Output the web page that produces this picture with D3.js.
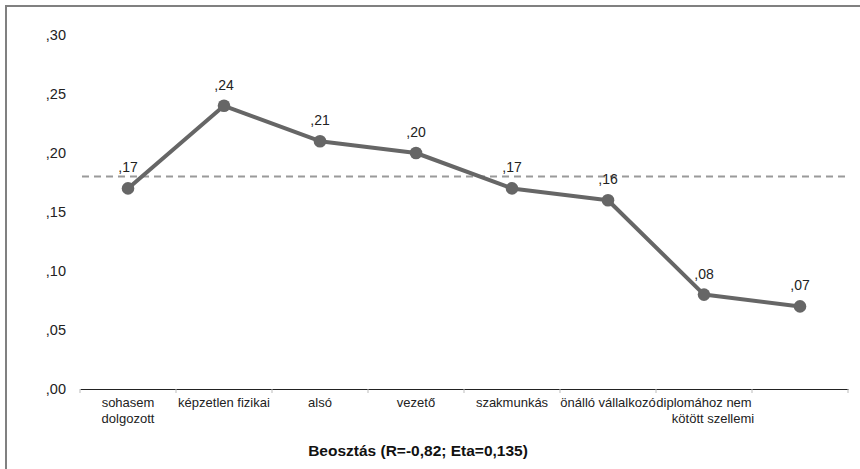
<!DOCTYPE html>
<html><head><meta charset="utf-8">
<script src="https://cdn.jsdelivr.net/npm/d3@7"></script>
<style>body{margin:0;background:#fff}svg{display:block}text{font-family:Arial,"Liberation Sans",sans-serif}</style>
</head><body>
<script>
const categories = ["sohasem dolgozott","képzetlen fizikai","alsó","vezető","szakmunkás","önálló vállalkozó","diplomához nem kötött szellemi",""];
const categoryLines = [["sohasem","dolgozott"],["képzetlen fizikai"],["alsó"],["vezető"],["szakmunkás"],["önálló vállalkozó"],["diplomához nem","kötött szellemi"],[""]];
const values = [0.17,0.24,0.21,0.20,0.17,0.16,0.08,0.07];
const valueLabels = [",17",",24",",21",",20",",17",",16",",08",",07"];
const yTicks = [0,0.05,0.10,0.15,0.20,0.25,0.30];
const yTickLabels = [",00",",05",",10",",15",",20",",25",",30"];
const meanValue = 0.18;
const title = "Beosztás (R=-0,82; Eta=0,135)";

const W = 860, H = 469;
const svg = d3.select("body").append("svg").attr("width", W).attr("height", H);
svg.append("rect").attr("x",6).attr("y",6).attr("width",W+10).attr("height",H+10)
  .attr("fill","#fff").attr("stroke","#808080").attr("stroke-width",2);

const x = d3.scaleBand().domain(categories.map((c,i)=>i)).range([80,848]);
const y = d3.scaleLinear().domain([0,0.30]).range([389,35]);

// y labels
svg.selectAll("text.yl").data(yTicks).enter().append("text")
  .attr("x",66).attr("y",d=>y(d)).attr("dy","0.35em").attr("text-anchor","end")
  .attr("font-size",14.5).attr("fill","#222").text((d,i)=>yTickLabels[i]);

// x axis
const xAxis = d3.axisBottom(x).tickSize(0).tickFormat("");
const gx = svg.append("g").attr("transform","translate(0,389)").call(xAxis);
gx.select(".domain").attr("stroke","#222").attr("stroke-width",1.2);
const bounds = categories.map((c,i)=>x(i)).concat([x.range()[1]]);
gx.selectAll("line.tk").data(bounds).enter().append("line").attr("class","tk")
  .attr("x1",d=>d).attr("x2",d=>d).attr("y1",0).attr("y2",4).attr("stroke","#bbb");

categoryLines.forEach((lines,i)=>{
  const t = svg.append("text").attr("text-anchor","middle").attr("font-size",13).attr("fill","#222");
  lines.forEach((l,j)=>{
    const shift = (lines.length>1 && i===6 && j===1) ? 9 : 0;
    t.append("tspan").attr("x",x(i)+x.bandwidth()/2+shift).attr("y",407+j*15.5).text(l);
  });
});

// mean dashed line
svg.append("line").attr("x1",82).attr("x2",845).attr("y1",y(meanValue)).attr("y2",y(meanValue))
  .attr("stroke","#9a9a9a").attr("stroke-width",2).attr("stroke-dasharray","7,5");

const cx = i => x(i)+x.bandwidth()/2;
const line = d3.line().x((d,i)=>cx(i)).y(d=>y(d));
svg.append("path").datum(values).attr("d",line).attr("fill","none")
  .attr("stroke","#666").attr("stroke-width",4).attr("stroke-linejoin","round");
svg.selectAll("circle.pt").data(values).enter().append("circle")
  .attr("cx",(d,i)=>cx(i)).attr("cy",d=>y(d)).attr("r",6.3).attr("fill","#666");

svg.selectAll("text.vl").data(values).enter().append("text")
  .attr("x",(d,i)=>cx(i)).attr("y",d=>y(d)-16).attr("text-anchor","middle")
  .attr("font-size",14).attr("fill","#222").text((d,i)=>valueLabels[i]);

svg.append("text").attr("x",418).attr("y",456).attr("text-anchor","middle")
  .attr("font-size",15.5).attr("font-weight","bold").attr("fill","#111").text(title);
</script>
</body></html>
